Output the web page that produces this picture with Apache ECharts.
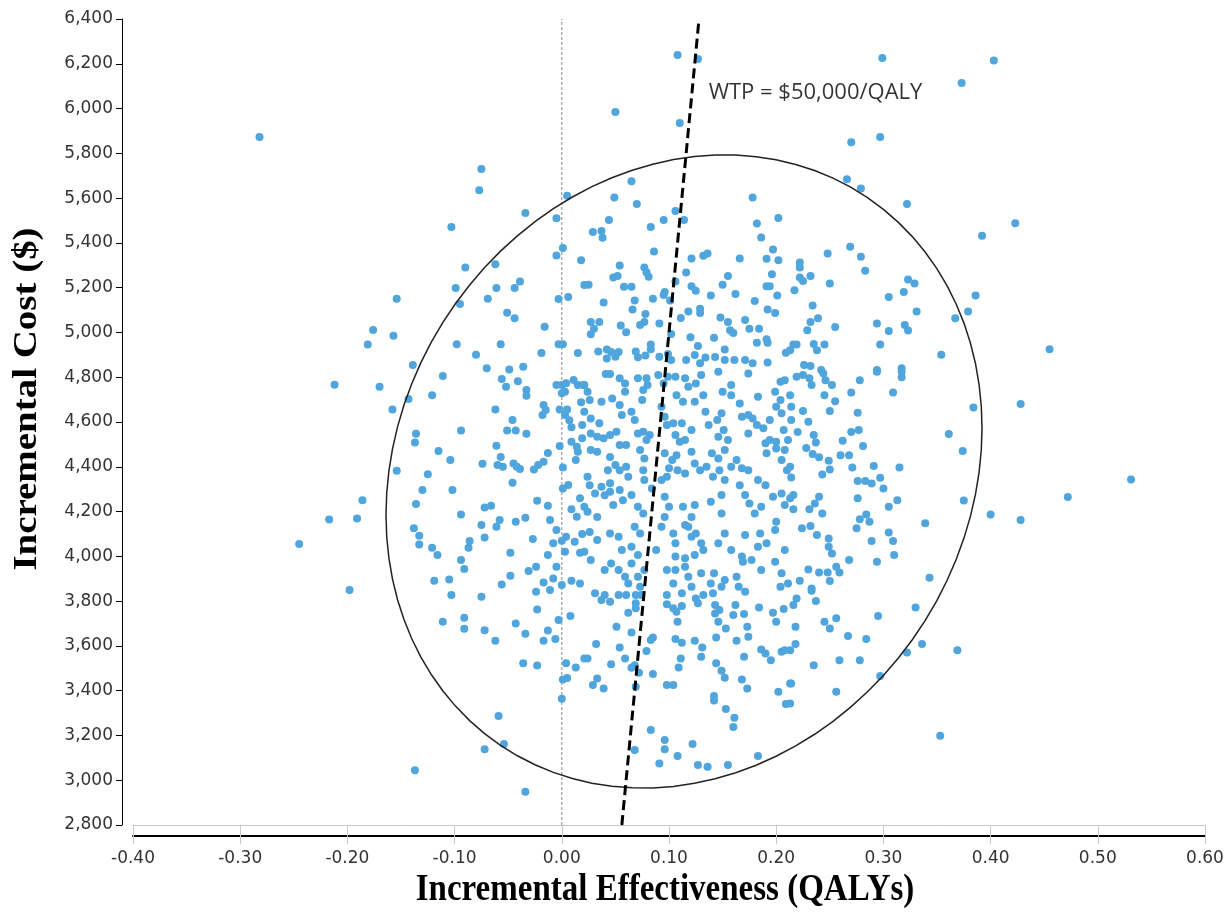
<!DOCTYPE html>
<html lang="en">
<head>
    <meta charset="UTF-8">
    <title>Cost-effectiveness plane</title>
    <script src="https://cdn.jsdelivr.net/npm/echarts@6/dist/echarts.min.js"></script>
    <style>
        html, body { margin: 0; padding: 0; background: #fff; }
        #chartmain { width: 1231px; height: 914px; }
    </style>
</head>
<body>
<div id="chartmain"></div>
<script>
    // axis ranges
    var xTicks = [-0.4, 0.6, 0.1];
    var yTicks = [2800, 6400, 200];
    var wtpThreshold = 50000;
    var wtpLabel = 'WTP = $50,000/QALY';
    var wtpLabelAt = [0.137, 6069];
    var xTitle = 'Incremental Effectiveness (QALYs)';
    var yTitle = 'Incremental Cost ($)';

    // confidence ellipse: centre, semi extents (x, y), phase between x and y
    var ellipseCenter = [0.114, 4379];
    var ellipseSemi = [0.278, 1414];
    var ellipsePhase = 1.433;

    // simulated incremental effectiveness / cost pairs
    var upperLeft = [
        [-0.075,5730],[-0.077,5635],[0.005,5611],[-0.034,5533],[-0.005,5510],[-0.103,5471],[0.001,5377],[-0.005,5344],
        [0.018,5322],[-0.09,5290],[-0.062,5305],[-0.039,5228],[-0.099,5198],[-0.061,5198],[-0.044,5198],[-0.154,5151],
        [-0.069,5151],[-0.003,5149],[0.006,5158],[-0.095,5127],[-0.051,5088],[-0.044,5063],[-0.016,5025],[-0.157,4985],
        [-0.098,4947],[-0.057,4947],[-0.003,4947],[0.001,4947],[-0.019,4908],[-0.08,4900],[0.015,4908],[-0.139,4855],
        [-0.07,4840],[-0.049,4834],[-0.036,4847],[0.021,5212]
    ];
    var upperMid = [
        [0.065,5675],[0.049,5603],[0.07,5574],[0.178,5603],[0.106,5542],[0.114,5502],[0.095,5502],[0.044,5502],
        [0.083,5471],[0.029,5449],[0.037,5453],[0.038,5423],[0.182,5487],[0.202,5511],[0.186,5424],[0.086,5362],
        [0.197,5371],[0.202,5323],[0.191,5329],[0.121,5330],[0.132,5342],[0.136,5353],[0.166,5330],[0.054,5299],
        [0.077,5290],[0.079,5269],[0.081,5249],[0.048,5245],[0.052,5252],[0.116,5268],[0.155,5252],[0.196,5260],
        [0.025,5213],[0.058,5204],[0.065,5204],[0.106,5228],[0.121,5206],[0.125,5186],[0.15,5213],[0.139,5165],
        [0.162,5172],[0.191,5206],[0.194,5206],[0.201,5165],[0.096,5181],[0.095,5167],[0.085,5151],[0.068,5143],
        [0.039,5134],[0.101,5143],[0.18,5141],[0.129,5106],[0.129,5087],[0.118,5094],[0.066,5103],[0.078,5082],
        [0.192,5103],[0.199,5087],[0.111,5064],[0.148,5067],[0.155,5047],[0.157,5010],[0.16,4998],[0.171,5056],
        [0.175,5016],[0.184,5017],[0.027,5047],[0.035,5047],[0.03,5017],[0.027,4992],[0.055,5031],[0.06,5001],
        [0.073,5033],[0.077,5047],[0.091,5040],[0.102,4993],[0.12,4978],[0.127,4939],[0.142,4976],[0.152,4924],
        [0.182,4954],[0.191,4970],[0.192,4954],[0.083,4946],[0.083,4925],[0.034,4915],[0.042,4924],[0.046,4913],
        [0.053,4913],[0.042,4884],[0.05,4891],[0.069,4915],[0.071,4889],[0.078,4897],[0.091,4891],[0.099,4904],
        [0.102,4877],[0.116,4877],[0.124,4899],[0.129,4862],[0.134,4888],[0.143,4890],[0.152,4877],[0.161,4877],
        [0.171,4877],[0.178,4862],[0.192,4866],[0.209,4909]
    ];
    var upperRight = [
        [0.266,5684],[0.279,5643],[0.322,5574],[0.392,5432],[0.248,5353],[0.269,5383],[0.279,5338],[0.283,5276],
        [0.222,5312],[0.222,5290],[0.222,5245],[0.225,5230],[0.232,5252],[0.217,5189],[0.25,5219],[0.323,5237],
        [0.329,5219],[0.319,5181],[0.305,5158],[0.386,5165],[0.379,5094],[0.367,5063],[0.331,5094],[0.234,5120],
        [0.239,5063],[0.232,5047],[0.229,5010],[0.255,5024],[0.294,5040],[0.305,5007],[0.32,5033],[0.323,5009],
        [0.216,4946],[0.219,4946],[0.213,4921],[0.235,4948],[0.238,4921],[0.245,4946],[0.297,4946],[0.354,4900],
        [0.226,4855],[0.232,4850],[0.242,4832],[0.294,4832],[0.317,4840]
    ];
    var middleLeft = [
        [-0.111,4805],[-0.056,4792],[-0.052,4758],[-0.041,4782],[-0.033,4743],[-0.033,4717],[-0.17,4758],[-0.121,4719],
        [-0.143,4703],[-0.158,4656],[-0.062,4656],[-0.017,4676],[-0.015,4654],[-0.018,4631],[-0.005,4765],[0,4765],
        [0.004,4773],[0.011,4788],[0.015,4765],[0,4728],[0.003,4735],[0.02,4765],[-0.002,4656],[0.003,4631],
        [0.007,4608],[0.005,4656],[0.018,4688],[0.019,4587],[0.009,4576],[-0.046,4609],[-0.051,4562],[-0.043,4562],
        [-0.033,4547],[-0.094,4562],[-0.136,4547],[-0.137,4508],[-0.115,4470],[-0.104,4430],[-0.061,4494],[-0.057,4444],
        [-0.06,4408],[-0.055,4400],[-0.074,4413],[-0.045,4415],[-0.042,4400],[-0.039,4390],[-0.002,4493],[-0.013,4461],
        [-0.017,4422],[-0.022,4408],[-0.026,4388],[0.009,4512],[0.014,4490],[0.015,4467],[0.013,4430],[0.019,4527],
        [0.001,4397],[-0.154,4382],[-0.125,4367],[-0.13,4296],[-0.102,4296],[-0.046,4329],[0.001,4303],[0.006,4319],
        [-0.136,4234],[-0.023,4248],[-0.013,4226],[-0.072,4218],[-0.066,4226],[-0.094,4187],[0.009,4210],[0.017,4259],
        [0.014,4177],[-0.034,4172],[-0.043,4154],[-0.058,4162],[-0.061,4132],[-0.075,4140],[-0.011,4162],[-0.138,4125],
        [-0.133,4092],[-0.133,4053],[-0.072,4084],[-0.086,4068],[-0.087,4038],[-0.121,4038],[-0.116,4006],[-0.027,4077],
        [-0.005,4118],[-0.008,4058],[0,4070],[0.004,4087],[0.012,4065],[0.019,4100],[0.017,4016],[0.003,4020],
        [-0.048,4016],[-0.013,4006],[-0.094,3984],[-0.091,3943],[-0.024,3954],[-0.031,3935],[-0.005,3954],[-0.008,3901],
        [-0.048,3913],[-0.119,3891],[-0.105,3897],[-0.056,3874],[-0.017,3883],[0,3872],[0.009,3891],[0.017,3879]
    ];
    var middleCore = [
        [0.041,4814],[0.045,4814],[0.054,4795],[0.059,4772],[0.059,4735],[0.071,4795],[0.079,4795],[0.08,4765],
        [0.076,4743],[0.075,4698],[0.09,4810],[0.095,4772],[0.099,4802],[0.106,4802],[0.115,4795],[0.118,4758],
        [0.107,4720],[0.113,4690],[0.124,4690],[0.132,4720],[0.13,4810],[0.125,4772],[0.146,4825],[0.15,4735],
        [0.158,4765],[0.158,4720],[0.166,4683],[0.174,4817],[0.183,4713],[0.199,4735],[0.204,4780],[0.208,4787],
        [0.204,4698],[0.021,4765],[0.024,4735],[0.026,4698],[0.037,4690],[0.047,4705],[0.054,4676],
        [0.021,4646],[0.027,4616],[0.035,4594],[0.027,4549],[0.033,4534],[0.039,4527],[0.045,4542],[0.051,4556],
        [0.054,4497],[0.06,4497],[0.056,4631],[0.065,4646],[0.068,4609],[0.071,4549],[0.076,4556],[0.082,4542],
        [0.079,4520],[0.073,4475],[0.093,4668],[0.096,4624],[0.098,4587],[0.104,4594],[0.112,4594],[0.106,4542],
        [0.11,4512],[0.115,4520],[0.121,4564],[0.134,4646],[0.137,4587],[0.145,4609],[0.149,4639],[0.151,4564],
        [0.146,4534],[0.155,4520],[0.152,4475],[0.168,4624],[0.174,4631],[0.178,4616],[0.182,4587],[0.188,4572],
        [0.174,4549],[0.194,4609],[0.2,4668],[0.205,4639],[0.207,4564],[0.211,4520],[0.194,4520],[0.19,4505],[0.2,4512],
        [0.027,4475],[0.033,4467],[0.045,4444],[0.05,4408],[0.043,4385],[0.054,4385],[0.06,4400],[0.062,4355],
        [0.024,4355],[0.026,4318],[0.037,4311],[0.045,4326],[0.04,4273],[0.077,4437],[0.076,4385],[0.077,4341],
        [0.096,4460],[0.103,4430],[0.107,4452],[0.1,4393],[0.098,4355],[0.108,4385],[0.115,4370],[0.121,4467],
        [0.124,4415],[0.129,4385],[0.135,4400],[0.14,4460],[0.146,4437],[0.147,4385],[0.141,4355],[0.152,4341],
        [0.158,4400],[0.163,4430],[0.168,4393],[0.174,4385],[0.183,4341],[0.19,4318],[0.191,4460],[0.2,4482],
        [0.208,4475],[0.205,4430],[0.21,4385],[0.166,4318],
        [0.031,4281],[0.045,4288],[0.048,4229],[0.054,4296],[0.057,4251],[0.065,4274],[0.071,4221],[0.076,4191],
        [0.084,4303],[0.093,4341],[0.096,4266],[0.1,4221],[0.096,4176],[0.113,4221],[0.124,4229],[0.121,4176],
        [0.118,4132],[0.139,4244],[0.149,4274],[0.149,4191],[0.171,4274],[0.175,4236],[0.18,4191],[0.186,4221],
        [0.197,4266],[0.205,4281],[0.208,4229],[0.2,4154],[0.021,4221],[0.024,4199],[0.033,4176],[0.026,4109],[0.033,4073],
        [0.045,4102],[0.053,4087],[0.056,4028],[0.065,4043],[0.068,4132],[0.073,4102],[0.071,4006],[0.065,3968],
        [0.088,4028],[0.093,4132],[0.104,4102],[0.106,4058],[0.115,4140],[0.121,4087],[0.125,4102],[0.13,4058],
        [0.106,3999],[0.115,3991],[0.124,4006],[0.132,4028],[0.146,4058],[0.152,4102],[0.158,4028],[0.168,3999],
        [0.171,4095],[0.185,4102],[0.191,4058],[0.183,4043],[0.199,4118],[0.208,4028],
        [0.021,4020],[0.027,3984],[0.04,3939],[0.046,3968],[0.053,3939],[0.059,3909],[0.062,3879],[0.071,3909],
        [0.077,3939],[0.073,3864],[0.098,3939],[0.106,3939],[0.115,3954],[0.118,3909],[0.13,3924],[0.142,3924],
        [0.152,3894],[0.163,3909],[0.169,3976],[0.177,3984],[0.186,3939],[0.199,3976],[0.205,3924],[0.211,3879],
        [0.204,3864],[0.104,3879],[0.121,3864],[0.139,3879],[0.149,3864],[0.165,3864]
    ];
    var middleRight = [
        [0.219,4802],[0.225,4810],[0.231,4795],[0.233,4765],[0.244,4817],[0.246,4787],[0.252,4765],[0.278,4787],
        [0.294,4825],[0.317,4800],[0.317,4825],[0.27,4732],[0.309,4732],[0.245,4720],[0.255,4693],[0.213,4720],
        [0.225,4649],[0.25,4649],[0.276,4641],[0.23,4601],[0.214,4668],[0.214,4609],[0.384,4665],[0.361,4546],
        [0.374,4470],[0.22,4555],[0.235,4542],[0.237,4508],[0.228,4484],[0.234,4457],[0.24,4442],[0.249,4427],
        [0.25,4388],[0.243,4366],[0.262,4516],[0.27,4555],[0.277,4564],[0.281,4493],[0.26,4452],[0.268,4452],
        [0.271,4397],[0.291,4404],[0.315,4397],[0.276,4336],[0.283,4336],[0.289,4325],[0.297,4351],[0.3,4303],
        [0.213,4400],[0.214,4352],[0.216,4274],[0.213,4259],[0.216,4210],[0.24,4266],[0.236,4236],[0.231,4210],
        [0.243,4191],[0.276,4259],[0.305,4221],[0.313,4251],[0.278,4166],[0.284,4187],[0.287,4154],[0.275,4125],
        [0.375,4249],[0.4,4187],[0.339,4148],[0.224,4125],[0.232,4135],[0.238,4095],[0.249,4080],[0.249,4043],
        [0.252,4013],[0.289,4068],[0.305,4107],[0.309,4068],[0.31,4006],[0.268,3984],[0.294,3976],[0.23,3941],
        [0.24,3928],[0.248,3928],[0.256,3954],[0.259,3928],[0.25,3890],[0.222,3891],[0.233,3856],[0.343,3904]
    ];
    var lowerLeft = [
        [-0.103,3827],[-0.075,3820],[-0.024,3842],[-0.011,3850],[-0.111,3708],[-0.091,3726],[-0.091,3677],[-0.072,3670],
        [-0.062,3623],[-0.023,3763],[-0.043,3700],[-0.034,3654],[-0.013,3669],[-0.003,3716],[0.008,3733],[-0.017,3623],
        [-0.006,3631],[-0.036,3522],[-0.023,3512],[0.004,3522],[0.013,3504],[0.001,3450],[0.005,3457],[0.021,3544],
        [0,3364],[-0.059,3287],[-0.054,3162],[-0.072,3138],[-0.137,3044],[-0.034,2948]
    ];
    var lowerMid = [
        [0.031,3835],[0.04,3827],[0.045,3797],[0.037,3805],[0.053,3827],[0.06,3827],[0.069,3827],[0.074,3827],
        [0.069,3790],[0.069,3768],[0.062,3748],[0.051,3685],[0.065,3660],[0.098,3827],[0.112,3835],[0.098,3786],
        [0.104,3768],[0.107,3753],[0.112,3778],[0.108,3708],[0.127,3790],[0.125,3812],[0.132,3827],[0.141,3835],
        [0.143,3783],[0.143,3745],[0.147,3760],[0.146,3708],[0.162,3783],[0.16,3738],[0.17,3742],[0.171,3842],
        [0.184,3772],[0.197,3748],[0.2,3708],[0.207,3765],[0.153,3678],[0.173,3685],[0.174,3641],[0.163,3623],
        [0.144,3638],[0.131,3593],[0.124,3623],[0.106,3631],[0.112,3614],[0.085,3638],[0.083,3626],[0.032,3608],
        [0.054,3593],[0.079,3577],[0.059,3544],[0.024,3544],[0.046,3518],[0.068,3514],[0.072,3480],[0.065,3502],
        [0.085,3474],[0.111,3544],[0.109,3504],[0.13,3551],[0.144,3522],[0.149,3489],[0.152,3458],[0.17,3551],
        [0.186,3584],[0.19,3566],[0.195,3536],[0.205,3574],[0.208,3581],[0.029,3425],[0.033,3454],[0.039,3410],
        [0.069,3417],[0.098,3425],[0.104,3425],[0.168,3450],[0.173,3410],[0.202,3395],[0.209,3340],[0.213,3432],
        [0.142,3376],[0.142,3356],[0.153,3318],[0.161,3279],[0.16,3238],[0.083,3224],[0.096,3180],[0.096,3138],
        [0.068,3135],[0.108,3108],[0.091,3075],[0.122,3162],[0.127,3068],[0.136,3060],[0.155,3068],[0.183,3108]
    ];
    var lowerRight = [
        [0.219,3812],[0.216,3783],[0.233,3846],[0.237,3801],[0.218,3685],[0.245,3708],[0.256,3723],[0.25,3678],
        [0.267,3644],[0.284,3631],[0.295,3733],[0.33,3772],[0.218,3608],[0.213,3581],[0.235,3514],[0.259,3536],
        [0.278,3536],[0.322,3570],[0.336,3608],[0.369,3581],[0.214,3432],[0.256,3395],[0.297,3466],[0.353,3199],[0.213,3343]
    ];
    var outliers = [
        [-0.282,5873],[-0.176,5011],[-0.181,4946],[-0.212,4766],[-0.186,4250],[-0.217,4164],[-0.191,4169],[-0.245,4055],
        [-0.198,3850],[0.403,6215],[0.423,5488],[0.455,4925],[0.428,4680],[0.531,4343],[0.472,4265],[0.428,4162],
        [0.108,6239],[0.127,6221],[0.299,6226],[0.373,6114],[0.05,5985],[0.11,5935],[0.297,5873],[0.27,5850]
    ];

    var samples = [].concat(upperLeft, upperMid, upperRight, middleLeft, middleCore,
        middleRight, lowerLeft, lowerMid, lowerRight, outliers);

    var tickFont = 'DejaVu Sans';
    var titleFont = 'Liberation Serif';

    var myChart = echarts.init(document.getElementById('chartmain'));

    var option = {
        animation: false,
        backgroundColor: '#fff',
        grid: {left: 133, right: 26, top: 19, bottom: 89, containLabel: false},
        xAxis: [{
            type: 'value', min: xTicks[0], max: xTicks[1], interval: xTicks[2],
            axisLine: {show: true, onZero: false, lineStyle: {color: '#c8c8c8', width: 1}},
            axisTick: {show: true, length: 19, lineStyle: {color: '#c8c8c8'}},
            axisLabel: {show: false},
            splitLine: {show: false}
        }, {
            type: 'value', min: xTicks[0], max: xTicks[1], interval: xTicks[2],
            position: 'bottom', offset: 11,
            axisLine: {show: true, onZero: false, lineStyle: {color: '#000', width: 2}},
            axisTick: {show: false},
            axisLabel: {
                margin: 14, color: '#333', fontFamily: tickFont, fontSize: 17,
                formatter: function (v) { return v.toFixed(2); }
            },
            splitLine: {show: false}
        }],
        yAxis: [{
            type: 'value', min: yTicks[0], max: yTicks[1], interval: yTicks[2],
            position: 'left', offset: 11,
            axisLine: {show: true, onZero: false, lineStyle: {color: '#000', width: 1}},
            axisTick: {show: true, length: 6, lineStyle: {color: '#000'}},
            axisLabel: {
                margin: 9, color: '#333', fontFamily: tickFont, fontSize: 17,
                formatter: function (v) { return v.toLocaleString('en-US'); }
            },
            splitLine: {show: false}
        }],
        graphic: [{
            type: 'text', x: 665, y: 890,
            style: {
                text: xTitle, fontFamily: titleFont, fontWeight: 'bold', fontSize: 33,
                fill: '#000', align: 'center', verticalAlign: 'middle'
            },
            scaleY: 1.18
        }, {
            type: 'text', x: 27, y: 399, rotation: Math.PI / 2,
            style: {
                text: yTitle, fontFamily: titleFont, fontWeight: 'bold', fontSize: 33,
                fill: '#000', align: 'center', verticalAlign: 'middle'
            },
            scaleX: 1.18
        }],
        series: [{
            name: 'zero',
            type: 'line',
            data: [[0, yTicks[0]], [0, yTicks[1]]],
            symbol: 'none', silent: true,
            lineStyle: {color: '#888', width: 1, type: [3, 2]},
            z: 1
        }, {
            name: 'samples',
            type: 'scatter',
            data: samples,
            symbolSize: 8,
            itemStyle: {color: '#4fa5dc', opacity: 1},
            z: 2
        }, {
            name: 'ellipse',
            type: 'custom',
            data: [ellipseCenter],
            silent: true,
            clip: false,
            z: 3,
            renderItem: function (params, api) {
                var pts = [];
                var n = 90;
                for (var i = 0; i <= n; i++) {
                    var t = i / n * Math.PI * 2;
                    pts.push(api.coord([
                        ellipseCenter[0] + ellipseSemi[0] * Math.cos(t),
                        ellipseCenter[1] + ellipseSemi[1] * Math.cos(t - ellipsePhase)
                    ]));
                }
                return {
                    type: 'polyline',
                    shape: {points: pts},
                    style: {stroke: '#222', fill: null, lineWidth: 1.5}
                };
            }
        }, {
            name: 'wtp',
            type: 'line',
            data: [[yTicks[0] / wtpThreshold, yTicks[0]], [yTicks[1] / wtpThreshold, yTicks[1]]],
            symbol: 'none', silent: true,
            lineStyle: {color: '#000', width: 3, type: [10, 5]},
            z: 4
        }, {
            name: 'wtpLabel',
            type: 'scatter',
            data: [wtpLabelAt],
            symbolSize: 0, silent: true,
            label: {
                show: true, position: 'right', distance: 0,
                formatter: wtpLabel,
                fontFamily: 'Open Sans', fontSize: 22, color: '#000'
            },
            z: 5
        }]
    };

    myChart.setOption(option);
</script>
</body>
</html>
